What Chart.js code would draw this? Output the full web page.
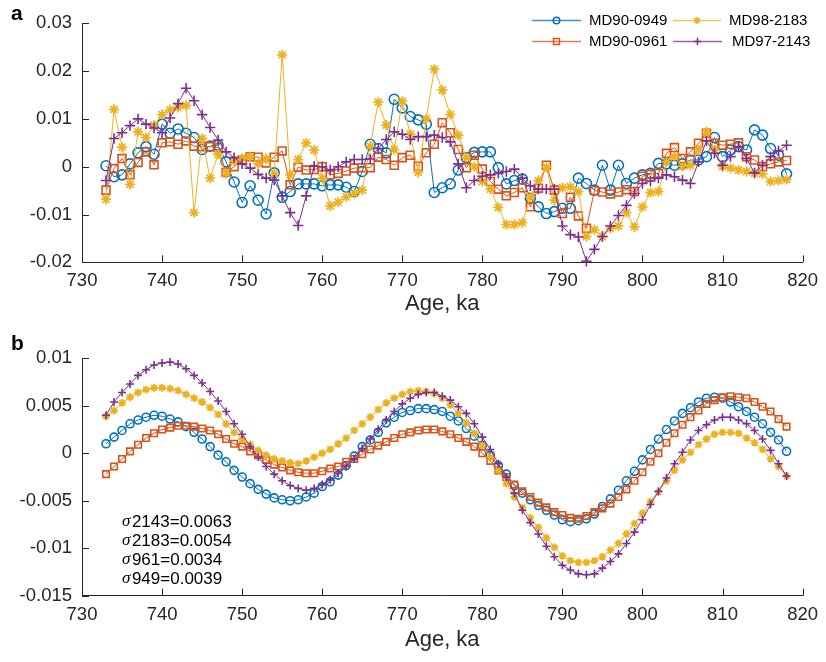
<!DOCTYPE html>
<html>
<head>
<meta charset="utf-8">
<script src="https://cdn.jsdelivr.net/npm/chart.js@4/dist/chart.umd.min.js"></script>
<style>
  html, body { margin: 0; padding: 0; background: #fff; }
  #wrap { position: relative; width: 826px; height: 662px; }
  canvas { position: absolute; left: 0; }
  #chartA { top: 0; width: 826px; height: 330px; }
  #chartB { top: 330px; width: 826px; height: 332px; }
</style>
</head>
<body>
<div id="wrap">
  <canvas id="chartA" width="826" height="330"></canvas>
  <canvas id="chartB" width="826" height="332"></canvas>
</div>
<script>
// ages (ka) shared by every series
const ages = [733, 734, 735, 736, 737, 738, 739, 740, 741, 742, 743, 744, 745, 746, 747, 748, 749, 750,
  751, 752, 753, 754, 755, 756, 757, 758, 759, 760, 761, 762, 763, 764, 765, 766, 767, 768, 769, 770,
  771, 772, 773, 774, 775, 776, 777, 778, 779, 780, 781, 782, 783, 784, 785, 786, 787, 788, 789, 790,
  791, 792, 793, 794, 795, 796, 797, 798, 799, 800, 801, 802, 803, 804, 805, 806, 807, 808, 809, 810,
  811, 812, 813, 814, 815, 816, 817, 818];

const ageTicks = [730, 740, 750, 760, 770, 780, 790, 800, 810, 820];
const yTicksA = [-0.02, -0.01, 0, 0.01, 0.02, 0.03];
const yTicksB = [-0.015, -0.01, -0.005, 0, 0.005, 0.01];

const seriesNames = ['MD90-0949', 'MD90-0961', 'MD98-2183', 'MD97-2143'];

// panel a : records
const a949 = [0.0002, -0.0021, -0.0017, 0.0006, 0.0029, 0.0042, 0.0026, 0.0089, 0.0070, 0.0079, 0.0070,
  0.0061, 0.0036, 0.0043, 0.0045, 0.0010, -0.0032, -0.0075, -0.0040, -0.0070, -0.0099, -0.0013, -0.0064,
  -0.0052, -0.0036, -0.0036, -0.0036, -0.0040, -0.0038, -0.0038, -0.0043, -0.0052, -0.0010, 0.0047,
  0.0038, 0.0029, 0.0141, 0.0123, 0.0105, 0.0098, 0.0089, -0.0054, -0.0044, -0.0036, -0.0007, 0.0019,
  0.0030, 0.0031, 0.0031, -0.0002, -0.0036, -0.0029, -0.0026, -0.0066, -0.0084, -0.0098, -0.0094,
  -0.0087, -0.0087, -0.0024, -0.0035, -0.0049, 0.0003, -0.0049, 0.0003, -0.0035, -0.0024, -0.0017,
  -0.0014, 0.0007, 0.0006, 0.0003, 0.0006, 0.0014, 0.0014, 0.0021, 0.0061, 0.0021, 0.0035, 0.0042,
  0.0035, 0.0077, 0.0066, 0.0038, 0.0024, -0.0015];
const a961 = [-0.0049, -0.0004, 0.0017, -0.0017, 0.0009, 0.0031, 0.0004, 0.0050, 0.0052, 0.0047, 0.0054,
  0.0043, 0.0042, 0.0042, 0.0040, -0.0012, 0.0000, 0.0014, 0.0021, 0.0020, 0.0008, 0.0020, 0.0033,
  -0.0038, -0.0001, -0.0007, -0.0006, 0.0000, -0.0017, -0.0014, -0.0009, -0.0003, -0.0002, -0.0002,
  0.0020, 0.0015, 0.0003, 0.0019, 0.0024, 0.0001, 0.0029, 0.0047, 0.0092, 0.0071, 0.0036, -0.0002,
  0.0024, -0.0005, -0.0031, -0.0047, -0.0061, -0.0054, -0.0044, -0.0084, -0.0045, 0.0003, -0.0049,
  -0.0098, -0.0064, -0.0103, -0.0129, -0.0050, -0.0053, -0.0057, -0.0053, -0.0048, -0.0052, -0.0020,
  -0.0016, -0.0014, 0.0028, 0.0040, 0.0017, 0.0031, 0.0049, 0.0070, 0.0049, 0.0045, 0.0047, 0.0050,
  0.0021, 0.0014, 0.0000, 0.0006, 0.0010, 0.0013];
const a2183 = [-0.0068, 0.0120, 0.0041, -0.0037, 0.0073, 0.0061, 0.0087, 0.0109, 0.0119, 0.0124, 0.0128,
  -0.0096, 0.0059, -0.0024, 0.0026, -0.0014, 0.0012, 0.0017, 0.0021, 0.0006, 0.0017, -0.0015, 0.0234,
  -0.0017, 0.0015, 0.0050, 0.0035, -0.0024, -0.0082, -0.0074, -0.0063, -0.0056, -0.0049, 0.0043,
  0.0135, 0.0087, 0.0036, 0.0137, 0.0068, -0.0012, 0.0100, 0.0204, 0.0160, 0.0109, 0.0066, 0.0019,
  0.0000, -0.0031, -0.0047, -0.0085, -0.0121, -0.0121, -0.0117, -0.0063, -0.0029, -0.0001, -0.0070,
  -0.0044, -0.0042, -0.0052, -0.0146, -0.0132, -0.0146, -0.0129, -0.0124, -0.0096, -0.0126, -0.0084,
  -0.0054, -0.0052, 0.0010, 0.0021, 0.0001, 0.0003, 0.0035, 0.0073, 0.0035, 0.0000, -0.0003, -0.0007,
  -0.0010, -0.0014, -0.0015, -0.0031, -0.0029, -0.0027];
const a2143 = [-0.0029, 0.0059, 0.0071, 0.0086, 0.0100, 0.0089, 0.0081, 0.0071, 0.0102, 0.0132, 0.0164,
  0.0138, 0.0109, 0.0082, 0.0056, 0.0031, 0.0019, 0.0006, -0.0003, -0.0016, -0.0024, -0.0028, -0.0061,
  -0.0096, -0.0123, -0.0061, 0.0001, 0.0000, -0.0007, 0.0000, 0.0010, 0.0015, 0.0015, 0.0016, 0.0038,
  0.0057, 0.0073, 0.0068, 0.0057, 0.0063, 0.0063, 0.0066, 0.0061, 0.0052, 0.0006, -0.0044, -0.0029,
  -0.0020, -0.0017, -0.0014, -0.0010, -0.0005, -0.0024, -0.0040, -0.0047, -0.0047, -0.0047, -0.0124,
  -0.0142, -0.0147, -0.0198, -0.0173, -0.0146, -0.0124, -0.0102, -0.0081, -0.0056, -0.0035, -0.0030,
  -0.0024, -0.0017, -0.0021, -0.0028, -0.0035, 0.0010, 0.0054, 0.0028, 0.0003, 0.0021, 0.0042, 0.0017,
  -0.0013, 0.0003, 0.0021, 0.0033, 0.0045];

// panel b : smoothed components
const b949 = [0.0010, 0.0017, 0.0024, 0.0031, 0.0035, 0.0038, 0.0040, 0.0039, 0.0036, 0.0033, 0.0028,
  0.0022, 0.0015, 0.0007, -0.0002, -0.0009, -0.0018, -0.0025, -0.0032, -0.0038, -0.0043, -0.0047,
  -0.0049, -0.0050, -0.0049, -0.0046, -0.0042, -0.0035, -0.0030, -0.0023, -0.0013, -0.0003, 0.0007,
  0.0014, 0.0022, 0.0032, 0.0038, 0.0043, 0.0045, 0.0047, 0.0047, 0.0046, 0.0044, 0.0039, 0.0034,
  0.0026, 0.0018, 0.0008, -0.0002, -0.0013, -0.0022, -0.0034, -0.0042, -0.0049, -0.0055, -0.0060,
  -0.0065, -0.0070, -0.0072, -0.0071, -0.0069, -0.0064, -0.0056, -0.0048, -0.0039, -0.0029, -0.0019,
  -0.0007, 0.0004, 0.0015, 0.0025, 0.0034, 0.0042, 0.0048, 0.0054, 0.0058, 0.0059, 0.0058, 0.0054,
  0.0049, 0.0044, 0.0038, 0.0031, 0.0022, 0.0014, 0.0002];
const b961 = [-0.0022, -0.0014, -0.0006, 0.0002, 0.0009, 0.0016, 0.0021, 0.0025, 0.0027, 0.0029, 0.0029,
  0.0028, 0.0026, 0.0024, 0.0020, 0.0015, 0.0010, 0.0007, 0.0002, -0.0002, -0.0007, -0.0012, -0.0015,
  -0.0018, -0.0020, -0.0021, -0.0021, -0.0019, -0.0016, -0.0014, -0.0009, -0.0006, -0.0001, 0.0004,
  0.0008, 0.0012, 0.0016, 0.0020, 0.0022, 0.0024, 0.0025, 0.0025, 0.0023, 0.0020, 0.0016, 0.0012,
  0.0007, 0.0000, -0.0008, -0.0018, -0.0025, -0.0033, -0.0040, -0.0046, -0.0052, -0.0057, -0.0062,
  -0.0065, -0.0068, -0.0069, -0.0066, -0.0062, -0.0058, -0.0053, -0.0046, -0.0038, -0.0029, -0.0020,
  -0.0009, 0.0000, 0.0011, 0.0021, 0.0030, 0.0038, 0.0045, 0.0052, 0.0056, 0.0059, 0.0060, 0.0059,
  0.0058, 0.0054, 0.0049, 0.0044, 0.0036, 0.0028];
const b2183 = [0.0039, 0.0045, 0.0053, 0.0059, 0.0064, 0.0067, 0.0069, 0.0069, 0.0068, 0.0066, 0.0062,
  0.0058, 0.0054, 0.0048, 0.0041, 0.0031, 0.0022, 0.0015, 0.0009, 0.0003, -0.0002, -0.0006, -0.0008,
  -0.0010, -0.0011, -0.0008, -0.0004, 0.0000, 0.0004, 0.0010, 0.0016, 0.0024, 0.0031, 0.0038, 0.0046,
  0.0053, 0.0058, 0.0062, 0.0065, 0.0066, 0.0065, 0.0063, 0.0058, 0.0051, 0.0042, 0.0032, 0.0021,
  0.0008, -0.0004, -0.0018, -0.0032, -0.0046, -0.0057, -0.0068, -0.0078, -0.0089, -0.0099, -0.0108,
  -0.0113, -0.0115, -0.0115, -0.0113, -0.0109, -0.0102, -0.0095, -0.0085, -0.0074, -0.0063, -0.0051,
  -0.0041, -0.0029, -0.0018, -0.0007, 0.0001, 0.0009, 0.0015, 0.0020, 0.0022, 0.0022, 0.0021, 0.0016,
  0.0011, 0.0004, -0.0006, -0.0014, -0.0024];
const b2143 = [0.0040, 0.0054, 0.0064, 0.0073, 0.0082, 0.0088, 0.0093, 0.0095, 0.0096, 0.0094, 0.0089,
  0.0082, 0.0074, 0.0065, 0.0055, 0.0044, 0.0031, 0.0020, 0.0007, -0.0004, -0.0014, -0.0022, -0.0029,
  -0.0034, -0.0037, -0.0039, -0.0037, -0.0033, -0.0028, -0.0021, -0.0014, -0.0006, 0.0005, 0.0015,
  0.0025, 0.0035, 0.0044, 0.0052, 0.0058, 0.0062, 0.0064, 0.0064, 0.0060, 0.0056, 0.0049, 0.0042,
  0.0031, 0.0017, 0.0004, -0.0011, -0.0025, -0.0042, -0.0060, -0.0073, -0.0085, -0.0098, -0.0109,
  -0.0118, -0.0123, -0.0127, -0.0128, -0.0127, -0.0121, -0.0114, -0.0106, -0.0095, -0.0083, -0.0070,
  -0.0054, -0.0040, -0.0026, -0.0011, 0.0001, 0.0014, 0.0024, 0.0030, 0.0035, 0.0038, 0.0038, 0.0035,
  0.0031, 0.0024, 0.0015, 0.0003, -0.0011, -0.0024];

// standard deviations printed in panel b
const sigmaCores = ['2143', '2183', '961', '949'];
const sigmaValues = ['0.0063', '0.0054', '0.0034', '0.0039'];

// look
const colors = ['#0072BD', '#D95319', '#EDB120', '#7E2F8E'];
const markers = ['circle', 'rect', 'star', 'cross'];
const sizesA = [5.0, 5.6, 5.0, 5.2];
const sizesB = [4.0, 4.6, 3.9, 4.0];
const axisColor = '#262626';
const fontFamily = '"Liberation Sans", Arial, Helvetica, sans-serif';
Chart.defaults.font.family = fontFamily;
Chart.defaults.color = axisColor;

function makeDatasets(list, sizes) {
  return list.map((vals, i) => ({
    label: seriesNames[i],
    data: ages.map((a, j) => ({ x: a, y: vals[j] })),
    borderColor: colors[i],
    backgroundColor: colors[i],
    borderWidth: 1,
    pointStyle: markers[i],
    pointRadius: sizes[i],
    pointBorderColor: colors[i],
    pointBackgroundColor: 'rgba(0,0,0,0)',
    pointBorderWidth: markers[i] === 'star' ? 1.8 : 1.6,
    pointHoverRadius: sizes[i],
    tension: 0,
    order: 4 - i,
    clip: false
  }));
}

function makeScales(yMin, yMax, yTicks, xHeight, titlePad) {
  return {
    x: {
      type: 'linear', min: 730, max: 820,
      afterBuildTicks: s => { s.ticks = ageTicks.map(v => ({ value: v })); },
      afterFit: s => { s.height = xHeight; },
      grid: { display: true, drawOnChartArea: false, drawTicks: false },
      border: { display: true, color: axisColor, width: 1 },
      ticks: { color: axisColor, font: { size: 18.5 }, padding: 8, maxRotation: 0, autoSkip: false,
        callback: v => String(v) },
      title: { display: true, text: 'Age, ka', color: axisColor, font: { size: 22 },
        padding: { top: 0, bottom: titlePad } }
    },
    y: {
      type: 'linear', min: yMin, max: yMax,
      afterBuildTicks: s => { s.ticks = yTicks.map(v => ({ value: v })); },
      afterFit: s => { s.width = 82; },
      grid: { display: true, drawOnChartArea: false, drawTicks: false },
      border: { display: true, color: axisColor, width: 1 },
      ticks: { color: axisColor, font: { size: 18.5 }, padding: 10, autoSkip: false,
        callback: v => String(v) }
    }
  };
}

// MATLAB style ticks pointing into the axes
const inwardTicks = {
  id: 'inwardTicks',
  afterDraw(chart) {
    const ctx = chart.ctx, area = chart.chartArea;
    const sx = chart.scales.x, sy = chart.scales.y;
    ctx.save();
    ctx.strokeStyle = axisColor;
    ctx.lineWidth = 1;
    ctx.beginPath();
    sx.ticks.forEach(t => {
      const p = Math.round(sx.getPixelForValue(t.value)) + 0.5;
      ctx.moveTo(p, area.bottom);
      ctx.lineTo(p, area.bottom - 7);
    });
    sy.ticks.forEach(t => {
      const p = Math.round(sy.getPixelForValue(t.value)) + 0.5;
      ctx.moveTo(area.left, p);
      ctx.lineTo(area.left + 7, p);
    });
    ctx.stroke();
    ctx.restore();
  }
};

function panelLetter(letter, baseline) {
  return {
    id: 'letter' + letter,
    afterDraw(chart) {
      const ctx = chart.ctx;
      ctx.save();
      ctx.fillStyle = '#000';
      ctx.font = 'bold 21px ' + fontFamily;
      ctx.textBaseline = 'alphabetic';
      ctx.fillText(letter, 11, baseline);
      ctx.restore();
    }
  };
}

function marker(ctx, style, r, x, y) {
  if (Chart.helpers && Chart.helpers.drawPoint) {
    Chart.helpers.drawPoint(ctx, { pointStyle: style, radius: r, borderWidth: 1.3, rotation: 0 }, x, y);
  }
}

// legend in two columns, line with marker
const legendA = {
  id: 'legendA',
  afterDraw(chart) {
    const ctx = chart.ctx;
    const slots = [
      { x1: 532, x2: 581, tx: 589, y: 20 },
      { x1: 532, x2: 581, tx: 589, y: 41 },
      { x1: 673, x2: 721, tx: 729, y: 20 },
      { x1: 673, x2: 722, tx: 732, y: 41 }
    ];
    const lr = [3.3, 4.2, 3.6, 3.8];
    ctx.save();
    seriesNames.forEach((name, i) => {
      const s = slots[i];
      ctx.globalAlpha = 0.75;
      ctx.strokeStyle = colors[i];
      ctx.lineWidth = 1.3;
      ctx.beginPath();
      ctx.moveTo(s.x1, s.y + 0.5);
      ctx.lineTo(s.x2, s.y + 0.5);
      ctx.stroke();
      ctx.globalAlpha = 1;
      ctx.fillStyle = 'rgba(0,0,0,0)';
      ctx.lineWidth = 1.5;
      marker(ctx, markers[i], lr[i], (s.x1 + s.x2) / 2, s.y + 0.5);
      ctx.fillStyle = '#000';
      ctx.font = '15px ' + fontFamily;
      ctx.textBaseline = 'middle';
      ctx.textAlign = 'left';
      ctx.fillText(name, s.tx, s.y + 1);
    });
    ctx.restore();
  }
};

// sigma annotation in panel b
const sigmaNote = {
  id: 'sigmaNote',
  afterDraw(chart) {
    const ctx = chart.ctx;
    const x0 = chart.scales.x.getPixelForValue(735);
    const y0 = chart.scales.y.getPixelForValue(-0.00723);
    ctx.save();
    ctx.fillStyle = '#000';
    ctx.textBaseline = 'middle';
    sigmaCores.forEach((core, i) => {
      const y = y0 + i * 19;
      ctx.font = 'italic 17px "Liberation Serif", "DejaVu Serif", serif';
      ctx.fillText('σ', x0, y);
      const w = ctx.measureText('σ').width;
      ctx.font = '17px ' + fontFamily;
      ctx.fillText(core + '=' + sigmaValues[i], x0 + w + 1.5, y);
    });
    ctx.restore();
  }
};

new Chart(document.getElementById('chartA'), {
  type: 'line',
  data: { datasets: makeDatasets([a949, a961, a2183, a2143], sizesA) },
  options: {
    responsive: false, animation: false, devicePixelRatio: 1,
    layout: { padding: { top: 23.3, right: 18, bottom: 0, left: 0 } },
    plugins: { legend: { display: false }, tooltip: { enabled: false } },
    scales: makeScales(-0.02, 0.03, yTicksA, 67.7, 12.4)
  },
  plugins: [inwardTicks, legendA, panelLetter('a', 20)]
});

new Chart(document.getElementById('chartB'), {
  type: 'line',
  data: { datasets: makeDatasets([b949, b961, b2183, b2143], sizesB) },
  options: {
    responsive: false, animation: false, devicePixelRatio: 1,
    layout: { padding: { top: 28.3, right: 18, bottom: 0, left: 0 } },
    plugins: { legend: { display: false }, tooltip: { enabled: false } },
    scales: makeScales(-0.015, 0.01, yTicksB, 66.3, 8.4)
  },
  plugins: [inwardTicks, sigmaNote, panelLetter('b', 20)]
});
</script>
</body>
</html>
